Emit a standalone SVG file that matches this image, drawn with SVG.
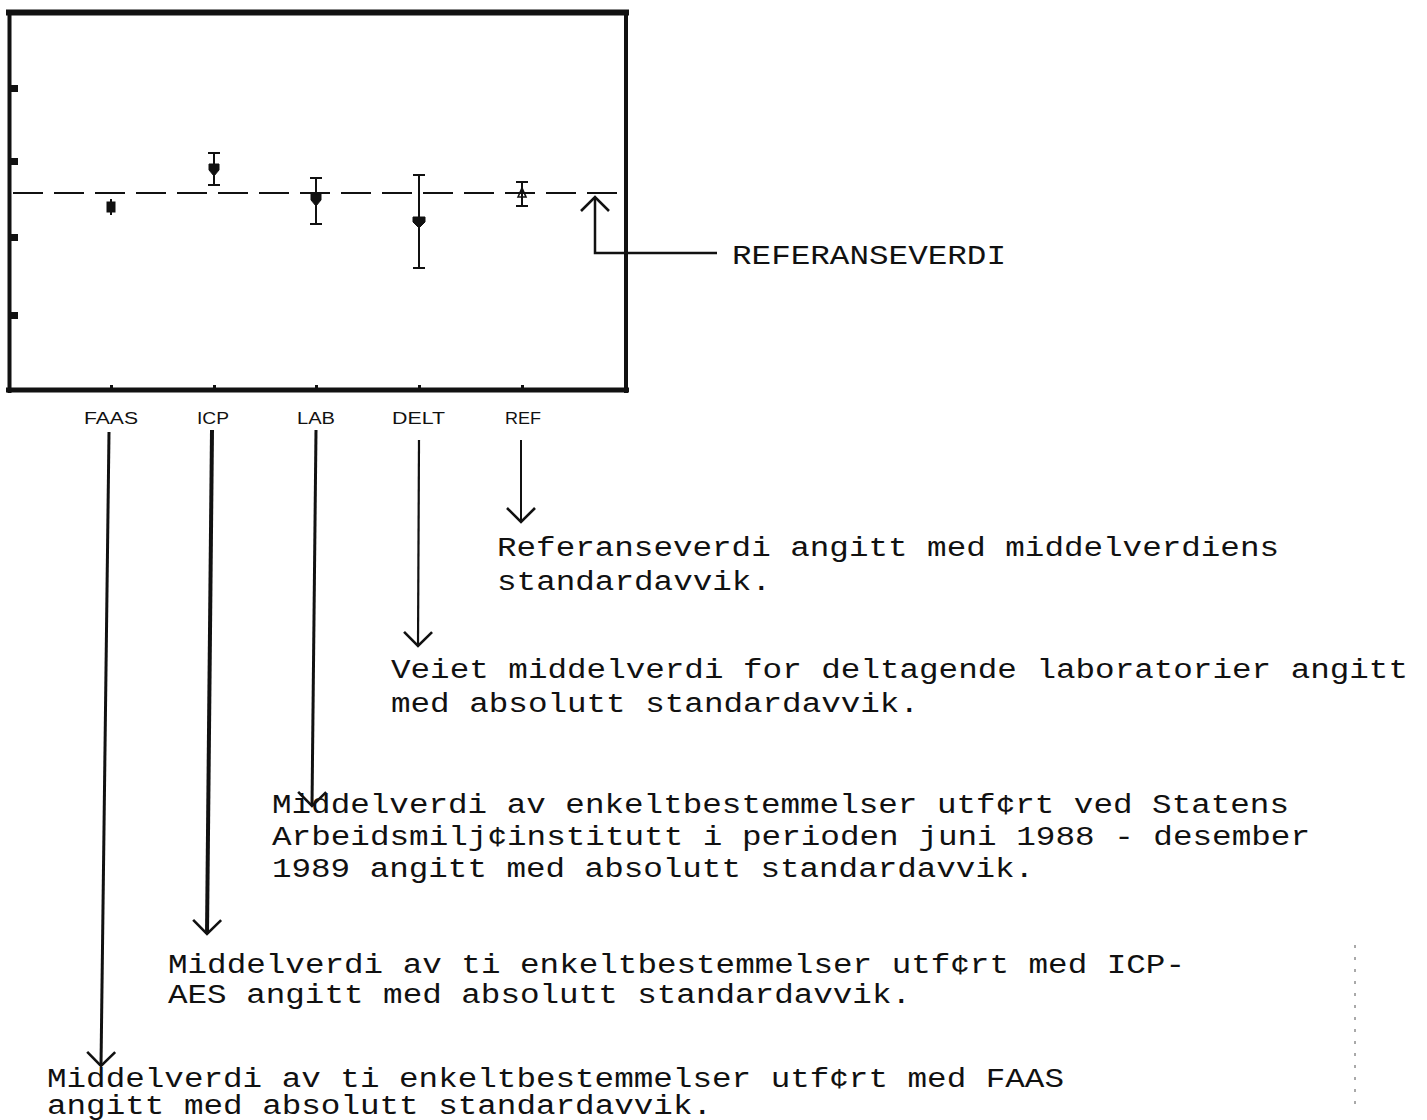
<svg xmlns="http://www.w3.org/2000/svg" width="1427" height="1120" viewBox="0 0 1427 1120">
<style>
.txt{font-family:"Liberation Mono","Courier New",monospace;font-size:27px;fill:#111}
.lbl{font-family:"Liberation Sans",Arial,sans-serif;font-size:16px;fill:#111}
.ln{stroke:#111;fill:none}
.eb{stroke:#111;stroke-width:2;fill:none}
.mk{fill:#111;stroke:#111;stroke-width:1}
</style>
<defs>
<marker id="ah" viewBox="-16 -16 20 32" markerWidth="20" markerHeight="32" refX="0" refY="0" orient="auto" markerUnits="userSpaceOnUse">
<path d="M-14,-14 L0,0 L-14,14" fill="none" stroke="#111" stroke-width="2.6"/>
</marker>
</defs>
<rect width="1427" height="1120" fill="#fff"/>
<g id="chart">
<line class="ln" x1="6" y1="12.5" x2="629" y2="12.5" stroke-width="6"/>
<line class="ln" x1="9.5" y1="10" x2="9.5" y2="393" stroke-width="4"/>
<line class="ln" x1="626" y1="10" x2="626" y2="393" stroke-width="4"/>
<line class="ln" x1="6" y1="390" x2="629" y2="390" stroke-width="5"/>
<rect x="9" y="85" width="9" height="7" fill="#111"/>
<rect x="9" y="158" width="9" height="7" fill="#111"/>
<rect x="9" y="234" width="9" height="7" fill="#111"/>
<rect x="9" y="312" width="9" height="7" fill="#111"/>
<g fill="#111"><rect x="110" y="385" width="3" height="3"/><rect x="213" y="385" width="3" height="3"/><rect x="315" y="385" width="3" height="3"/><rect x="418" y="385" width="3" height="3"/><rect x="521" y="385" width="3" height="3"/></g>
<line class="ln" x1="13" y1="193" x2="620" y2="193" stroke-width="2" stroke-dasharray="30 11"/>
</g>
<g id="FAAS-point"><rect class="mk" x="107" y="202" width="8" height="10"/><line class="eb" x1="111" y1="199" x2="111" y2="215"/></g>
<g id="ICP-point"><line class="eb" x1="214" y1="153" x2="214" y2="185"/><line class="eb" x1="208" y1="153" x2="220" y2="153"/><line class="eb" x1="208" y1="185" x2="220" y2="185"/><path class="mk" d="M209,164 H219 V170 L214,176 L209,170 Z"/></g>
<g id="LAB-point"><line class="eb" x1="316" y1="178" x2="316" y2="224"/><line class="eb" x1="310" y1="178" x2="322" y2="178"/><line class="eb" x1="310" y1="224" x2="322" y2="224"/><path class="mk" d="M311,194 H321 V200 L316,206 L311,200 Z"/></g>
<g id="DELT-point"><line class="eb" x1="419" y1="175" x2="419" y2="268"/><line class="eb" x1="413" y1="175" x2="425" y2="175"/><line class="eb" x1="413" y1="268" x2="425" y2="268"/><path class="mk" d="M413,217 H425 V222 L419,228 L413,222 Z"/></g>
<g id="REF-point"><line class="eb" x1="522" y1="182" x2="522" y2="206"/><line class="eb" x1="516" y1="182" x2="528" y2="182"/><line class="eb" x1="516" y1="206" x2="528" y2="206"/><path d="M518,197 L522,188 L526,197 Z" fill="none" stroke="#111" stroke-width="1.6"/></g>
<g id="labels">
<text class="lbl" x="84" y="424" textLength="54" lengthAdjust="spacingAndGlyphs">FAAS</text>
<text class="lbl" x="197" y="424" textLength="32" lengthAdjust="spacingAndGlyphs">ICP</text>
<text class="lbl" x="297" y="424" textLength="38" lengthAdjust="spacingAndGlyphs">LAB</text>
<text class="lbl" x="392" y="424" textLength="53" lengthAdjust="spacingAndGlyphs">DELT</text>
<text class="lbl" x="505" y="424" textLength="36" lengthAdjust="spacingAndGlyphs">REF</text>
</g>
<g id="connectors">
<polyline class="ln" points="717,253 595,253 595,197" stroke-width="2.5" marker-end="url(#ah)"/>
<line class="ln" x1="109" y1="432" x2="101" y2="1066" stroke-width="3" marker-end="url(#ah)"/>
<line class="ln" x1="212" y1="430" x2="207" y2="934" stroke-width="4" marker-end="url(#ah)"/>
<line class="ln" x1="316" y1="430" x2="312" y2="806" stroke-width="3" marker-end="url(#ah)"/>
<line class="ln" x1="419" y1="440" x2="418" y2="646" stroke-width="2.2" marker-end="url(#ah)"/>
<line class="ln" x1="521" y1="440" x2="521" y2="522" stroke-width="2" marker-end="url(#ah)"/>
</g>
<g id="ref-label"><text class="txt" x="732" y="264" textLength="274" lengthAdjust="spacingAndGlyphs">REFERANSEVERDI</text></g>
<g id="note-ref"><text class="txt" x="497" y="556" textLength="782" lengthAdjust="spacingAndGlyphs">Referanseverdi angitt med middelverdiens</text><text class="txt" x="497" y="590" textLength="274" lengthAdjust="spacingAndGlyphs">standardavvik.</text></g>
<g id="note-delt"><text class="txt" x="391" y="678" textLength="1017" lengthAdjust="spacingAndGlyphs">Veiet middelverdi for deltagende laboratorier angitt</text><text class="txt" x="391" y="712" textLength="528" lengthAdjust="spacingAndGlyphs">med absolutt standardavvik.</text></g>
<g id="note-lab"><text class="txt" x="272" y="813" textLength="1017" lengthAdjust="spacingAndGlyphs">Middelverdi av enkeltbestemmelser utf¢rt ved Statens</text><text class="txt" x="272" y="845" textLength="1038" lengthAdjust="spacingAndGlyphs">Arbeidsmilj¢institutt i perioden juni 1988 - desember</text><text class="txt" x="272" y="877" textLength="762" lengthAdjust="spacingAndGlyphs">1989 angitt med absolutt standardavvik.</text></g>
<g id="note-icp"><text class="txt" x="168" y="973" textLength="1017" lengthAdjust="spacingAndGlyphs">Middelverdi av ti enkeltbestemmelser utf¢rt med ICP-</text><text class="txt" x="168" y="1003" textLength="743" lengthAdjust="spacingAndGlyphs">AES angitt med absolutt standardavvik.</text></g>
<g id="note-faas"><text class="txt" x="47" y="1087" textLength="1017" lengthAdjust="spacingAndGlyphs">Middelverdi av ti enkeltbestemmelser utf¢rt med FAAS</text><text class="txt" x="47" y="1114" textLength="665" lengthAdjust="spacingAndGlyphs">angitt med absolutt standardavvik.</text></g>
<line x1="1355" y1="945" x2="1355" y2="1110" stroke="#555" stroke-width="1" stroke-dasharray="3 9"/>
</svg>
